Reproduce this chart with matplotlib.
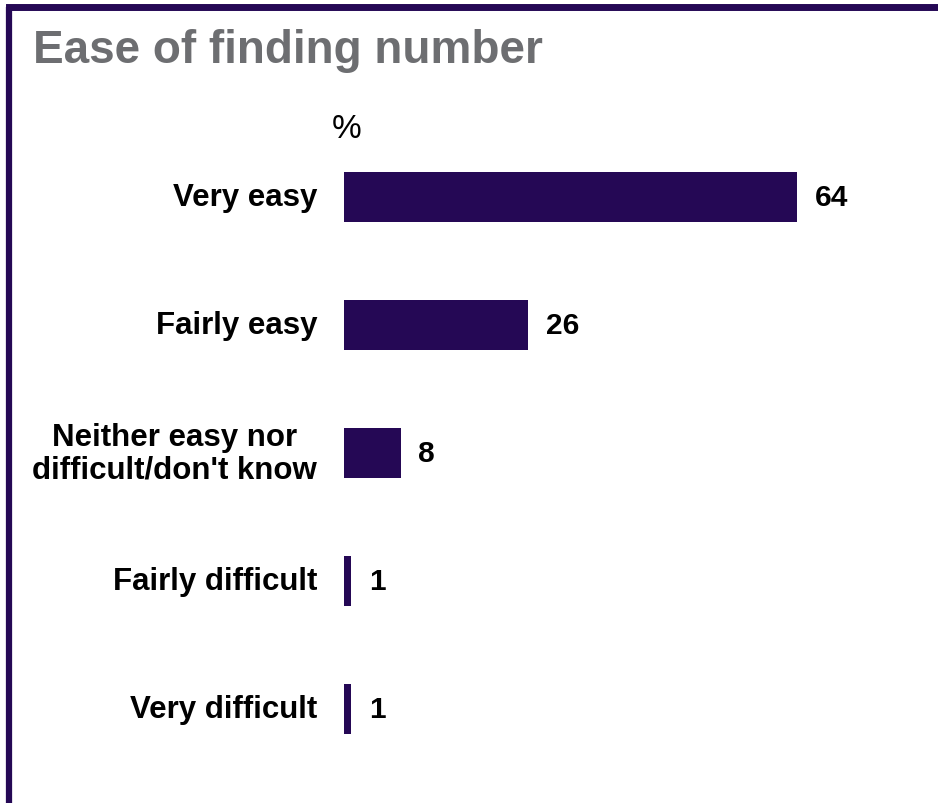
import matplotlib.pyplot as plt
from matplotlib.lines import Line2D

plt.rcParams['font.family'] = ['Liberation Sans', 'DejaVu Sans']

categories = ["Very easy", "Fairly easy", "Neither easy nor\ndifficult/don't know",
              "Fairly difficult", "Very difficult"]
values = [64, 26, 8, 1, 1]

bar_color = "#250855"
W, H = 938, 804

fig = plt.figure(figsize=(W / 100, H / 100), dpi=100)

# axes placed in pixel terms: x=0 at 344px, 7.08 px per percentage point
left, right = 344, 344 + 80 * 7.08
top, bottom = 134, 774
ax = fig.add_axes([left / W, 1 - bottom / H, (right - left) / W, (bottom - top) / H])

ypos = list(range(len(categories)))
ax.barh(ypos, values, height=0.39, color=bar_color)
ax.set_xlim(0, 80)
ax.set_ylim(len(categories) - 0.5, -0.5)

for y, v, c in zip(ypos, values, categories):
    ax.text(v + 2.5, y, f"{v}", va="center", ha="left", fontsize=21.5,
            fontweight="bold", color="black")
    ax.text(-3.8, y, c, va="center", ha="right", multialignment="center",
            fontsize=22.5, fontweight="bold", color="black", linespacing=1.12)

fig.text(347 / W, 1 - 138 / H, "%", ha="center", va="baseline", fontsize=24,
         color="black")

ax.set_xticks([])
ax.set_yticks([])
for s in ax.spines.values():
    s.set_visible(False)

fig.text(33 / W, 1 - 63 / H, "Ease of finding number", ha="left", va="baseline",
         fontsize=33, fontweight="bold", color="#6d6e71")

# frame lines along top and left edge
fig.add_artist(Line2D([9 / W, 1.0], [1 - 7.5 / H, 1 - 7.5 / H], color=bar_color,
                      lw=5, solid_capstyle="projecting"))
fig.add_artist(Line2D([9 / W, 9 / W], [1 - 7.5 / H, 0.0], color=bar_color,
                      lw=4.5, solid_capstyle="butt"))

fig.savefig("out.png", dpi=100)
